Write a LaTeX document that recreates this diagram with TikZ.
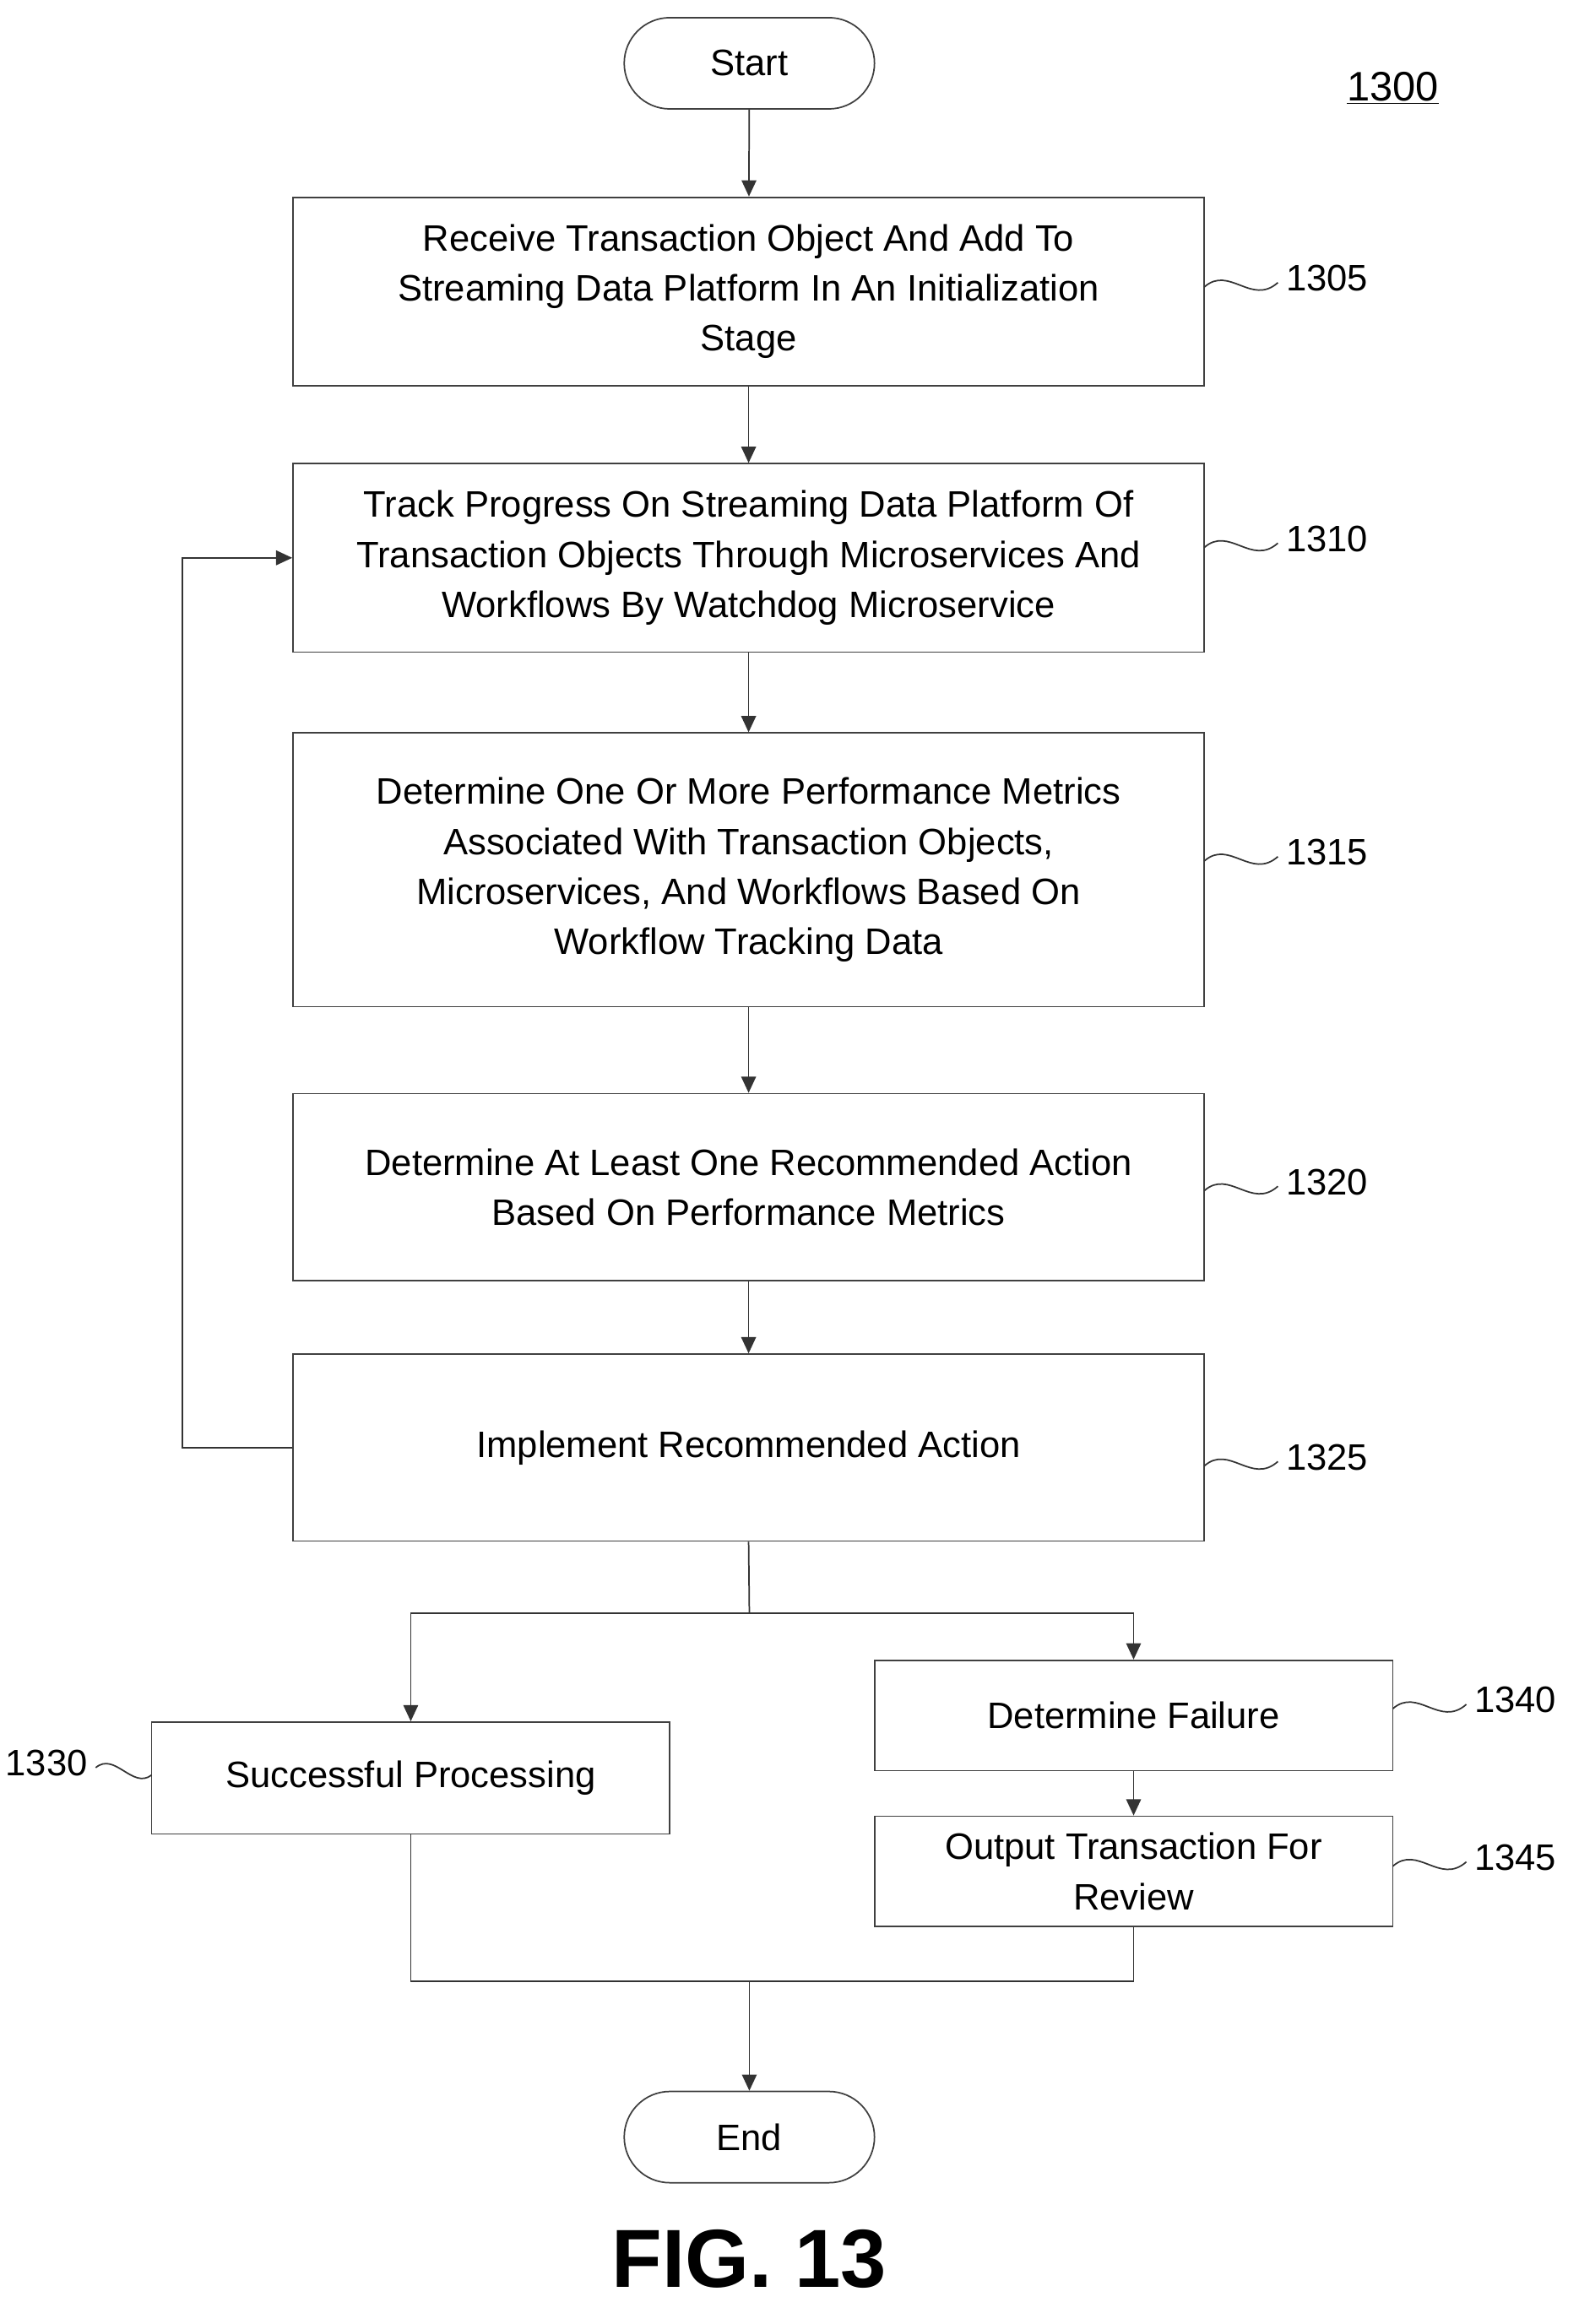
\documentclass[tikz,border=0pt]{standalone}
\usepackage{fontspec}
\setmainfont{Liberation Sans}
\usetikzlibrary{arrows.meta}
\begin{document}
\begin{tikzpicture}[x=1pt,y=-1pt,
  every node/.style={font=\fontsize{25}{34}\selectfont},
  box/.style={draw=black!75,line width=1pt,align=center,inner sep=0pt},
  term/.style={draw=black!75,line width=1pt,rounded corners=31pt,minimum width=170pt,minimum height=62pt},
  ln/.style={line width=1pt,black!80},
  arr/.style={ln,-{Triangle[length=11pt,width=10pt]}},
  sq/.style={line width=1pt,black!80},
  lbl/.style={font=\fontsize{25}{30}\selectfont,anchor=west}]
\useasboundingbox (0,0) rectangle (1072,1579);
\node[term] (start) at (509,43) {Start};
\node[box,minimum width=619pt,minimum height=128pt] (b1305) at (508.5,198) {Receive Transaction Object And Add To\\Streaming Data Platform In An Initialization\\Stage};
\node[box,minimum width=619pt,minimum height=128pt] (b1310) at (508.5,379) {Track Progress On Streaming Data Platform Of\\Transaction Objects Through Microservices And\\Workflows By Watchdog Microservice};
\node[box,minimum width=619pt,minimum height=186pt] (b1315) at (508.5,591) {Determine One Or More Performance Metrics\\Associated With Transaction Objects,\\Microservices, And Workflows Based On\\Workflow Tracking Data};
\node[box,minimum width=619pt,minimum height=127pt] (b1320) at (508.5,806.5) {Determine At Least One Recommended Action\\Based On Performance Metrics};
\node[box,minimum width=619pt,minimum height=127pt] (b1325) at (508.5,983.5) {Implement Recommended Action};
\node[box,minimum width=352pt,minimum height=76pt] (b1330) at (279,1208) {Successful Processing};
\node[box,minimum width=352pt,minimum height=75pt] (b1340) at (770,1165.5) {Determine Failure};
\node[box,minimum width=352pt,minimum height=75pt] (b1345) at (770,1271.5) {Output Transaction For\\Review};
\node[term] (end) at (509,1452) {End};
\node[font=\fontsize{56}{60}\selectfont\bfseries] (fig) at (509,1535) {FIG. 13};
\node[font=\fontsize{28}{30}\selectfont] (n1300) at (946,60) {\underline{1300}};

\draw[arr] (start) -- (b1305);
\draw[arr] (b1305) -- (b1310);
\draw[arr] (b1310) -- (b1315);
\draw[arr] (b1315) -- (b1320);
\draw[arr] (b1320) -- (b1325);
\coordinate (split) at (509,1096);
\draw[ln] (b1325.south) -- (split);
\draw[arr] (split) -| (b1330.north);
\draw[arr] (split) -| (b1340.north);
\draw[arr] (b1340) -- (b1345);
\coordinate (merge) at (509,1346);
\draw[ln] (b1330.south) |- (merge);
\draw[ln] (b1345.south) |- (merge);
\draw[arr] (merge) -- (end);
\draw[arr] (b1325.west) -- (124,983.5) |- (b1310.west);

\foreach \n/\y in {1305/192,1310/369,1315/582,1320/806,1325/993}{
  \draw[sq] (818,\y+3) .. controls (835,\y-12) and (850,\y+16) .. (868,\y);
  \node[lbl] (l\n) at (870,\y-3) {\n};
}
\foreach \n/\y in {1340/1158,1345/1265}{
  \draw[sq] (946,\y+3) .. controls (963,\y-12) and (978,\y+16) .. (996,\y);
  \node[lbl] (l\n) at (998,\y-3) {\n};
}
\draw[sq] (65,1201) .. controls (78,1190) and (90,1216) .. (103,1206);
\node[lbl,anchor=east] (l1330) at (63,1198) {1330};
\end{tikzpicture}
\end{document}
